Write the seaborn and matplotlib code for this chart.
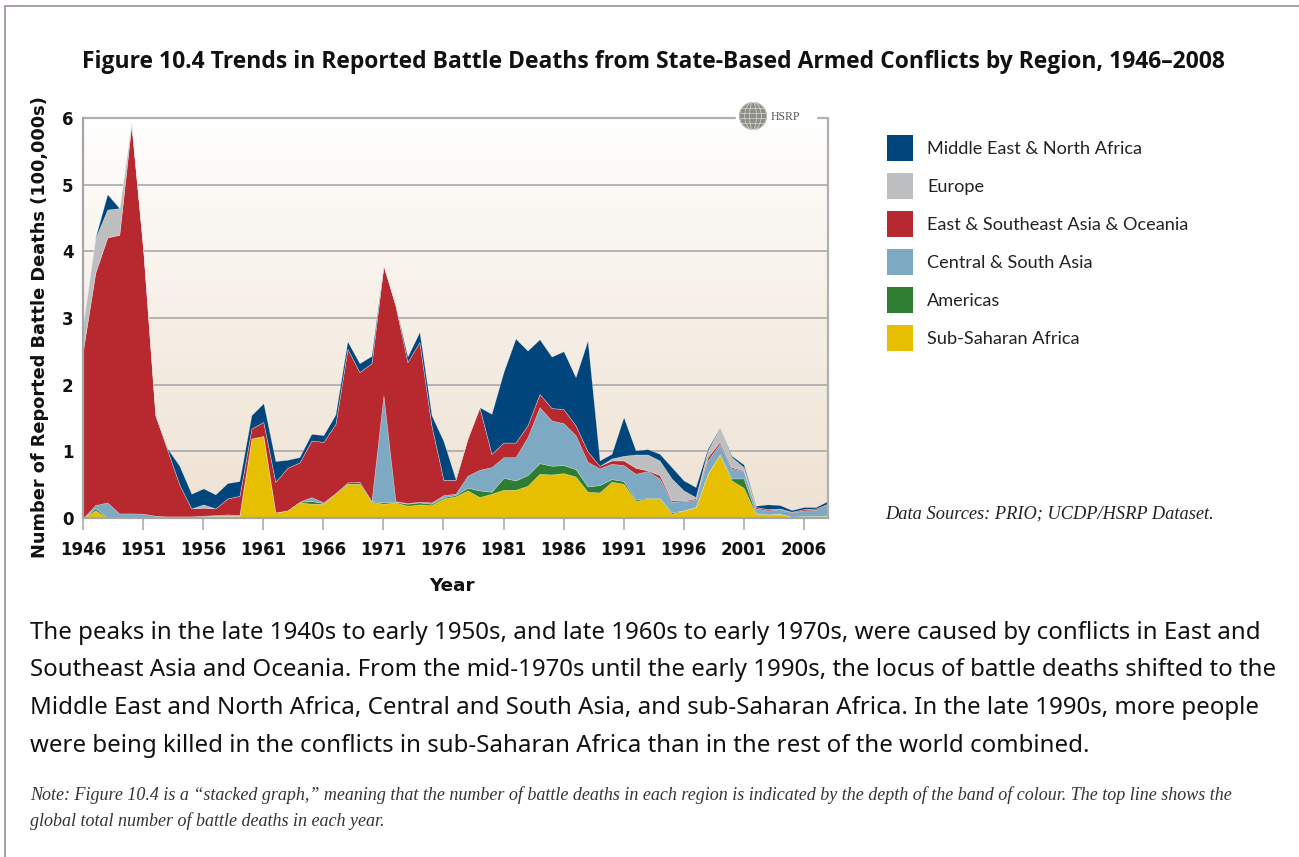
import numpy as np
import pandas as pd
import matplotlib
matplotlib.use("Agg")
import matplotlib.pyplot as plt
import seaborn as sns
from matplotlib.colors import LinearSegmentedColormap
from matplotlib.patches import Rectangle, Ellipse
from matplotlib.lines import Line2D

# ---------------- data (100,000s of battle deaths) ----------------
years = list(range(1946, 2009))
sub_saharan_africa = [0, .11, 0, 0, 0, 0, .02, .02, .02, .02,
                      .02, .03, .03, .03, 1.19, 1.22, .08, .11, .23, .21,
                      .21, .36, .51, .51, .24, .21, .23, .18, .20, .19,
                      .29, .32, .41, .31, .36, .42, .42, .48, .66, .65,
                      .67, .62, .39, .38, .54, .51, .25, .29, .29, .06,
                      .11, .16, .66, .95, .56, .45, .06, .05, .06, .015,
                      .025, .025, .03]
americas = [0, .03, .01, 0, 0, 0, 0, 0, 0, 0,
            0, 0, 0, 0, 0, .01, 0, 0, .01, .04,
            .01, .01, .02, .03, .01, .02, .01, .03, .03, .02,
            .02, .02, .04, .10, .03, .18, .14, .16, .16, .13,
            .12, .11, .08, .11, .04, .04, .02, .01, .01, .02,
            0, 0, 0, 0, .03, .14, .01, 0, 0, 0,
            0, 0, 0]
central_south_asia = [0, .05, .22, .065, .065, .06, .01, 0, 0, 0,
                      .01, .01, .02, .01, 0, 0, 0, 0, 0, .06,
                      .01, 0, 0, 0, 0, 1.61, .01, .01, .01, .02,
                      .03, .02, .18, .31, .37, .31, .35, .57, .84, .68,
                      .63, .51, .37, .25, .23, .24, .39, .40, .29, .16,
                      .14, .11, .20, .16, .15, .11, .07, .06, .07, .065,
                      .085, .095, .17]
east_se_asia_oceania = [2.54, 3.49, 3.98, 4.185, 5.835, 3.94, 1.51, 1.0, .48, .12,
                        .12, .10, .24, .29, .15, .21, .46, .64, .59, .85,
                        .91, 1.04, 2.01, 1.65, 2.07, 1.95, 2.94, 2.12, 2.40, 1.16,
                        .23, .21, .56, .94, .20, .22, .22, .18, .20, .19,
                        .21, .15, .16, .04, .05, .07, .09, .01, .05, .02,
                        .01, .02, .05, .03, .02, .01, .02, .02, .01, .01,
                        .02, .02, .01]
europe = [.41, .52, .42, .40, .05, .02, 0, 0, 0, 0,
          .05, 0, 0, 0, 0, 0, 0, 0, 0, 0,
          0, 0, 0, 0, 0, 0, 0, 0, 0, 0,
          0, 0, 0, 0, 0, 0, 0, 0, 0, 0,
          0, 0, 0, 0, .03, .07, .20, .24, .22, .33,
          .15, .02, .10, .20, .15, .05, 0, 0, 0, 0,
          0, 0, 0]
middle_east_north_africa = [0, .01, .23, 0, 0, 0, 0, .02, .28, .22,
                            .24, .21, .23, .22, .20, .28, .31, .12, .08, .10,
                            .10, .14, .11, .13, .11, 0, 0, .08, .15, .15,
                            .58, .01, 0, 0, .60, 1.06, 1.56, 1.12, .82, .77,
                            .87, .72, 1.66, .08, .07, .58, .06, .08, .10, .17,
                            .15, .15, .03, .01, .02, .04, .02, .07, .05, .025,
                            .03, .02, .04]

regions = ["Sub-Saharan Africa", "Americas", "Central & South Asia",
           "East & Southeast Asia & Oceania", "Europe", "Middle East & North Africa"]
colors = ["#E6C000", "#2E7D32", "#7DAAC2", "#B7282F", "#BDBEC0", "#00457C"]
x_ticks = list(range(1946, 2009, 5))
y_ticks = [0, 1, 2, 3, 4, 5, 6]

df = pd.DataFrame({
    "Year": years,
    regions[0]: sub_saharan_africa,
    regions[1]: americas,
    regions[2]: central_south_asia,
    regions[3]: east_se_asia_oceania,
    regions[4]: europe,
    regions[5]: middle_east_north_africa,
})

# ---------------- style ----------------
sns.set_theme(style="white")
plt.rcParams["font.family"] = ["DejaVu Sans"]

W, H = 1299, 857
fig = plt.figure(figsize=(W / 100, H / 100), dpi=100)
fig.patch.set_facecolor("white")

def fx(px):
    return px / W

def fy(py):
    return 1 - py / H

ax_l, ax_r, ax_t, ax_b = 83.3, 827.7, 118.3, 517.7
ax = fig.add_axes([fx(ax_l), fy(ax_b), fx(ax_r - ax_l), (ax_b - ax_t) / H])

# background gradient
grad_cmap = LinearSegmentedColormap.from_list("bg", ["#EEE2D3", "#F6EFE6", "#FFFFFF"])
grad = np.linspace(0, 1, 256).reshape(-1, 1)
ax.imshow(grad, extent=[1946, 2008, 0, 6], origin="lower", aspect="auto",
          cmap=grad_cmap, zorder=0, interpolation="bicubic")

# gridlines
for yv in y_ticks[1:-1]:
    ax.axhline(yv, color="#A9A9A9", lw=1.2, zorder=1)

# stacked areas
ax.stackplot(df["Year"], [df[r] for r in regions], colors=colors,
             edgecolor=(1, 1, 1, 0.35), linewidth=0.4, zorder=2)

ax.set_xlim(1946, 2008)
ax.set_ylim(0, 6)

# top line with gap for logo, right border
gap0 = (735 - ax_l) / (ax_r - ax_l)
gap1 = (818 - ax_l) / (ax_r - ax_l)
ax.plot([0, gap0], [1, 1], transform=ax.transAxes, color="#B0B0B0", lw=1.6, clip_on=False, zorder=5)
ax.plot([gap1, 1, 1], [1, 1, 0], transform=ax.transAxes, color="#B0B0B0", lw=1.6, clip_on=False, zorder=5)

for s in ["top", "right"]:
    ax.spines[s].set_visible(False)
for s in ["left", "bottom"]:
    ax.spines[s].set_color("#A5A5A5")
    ax.spines[s].set_linewidth(1.6)
    ax.spines[s].set_zorder(6)

ax.set_xticks(x_ticks)
ax.set_xticklabels([str(t) for t in x_ticks])
ax.set_yticks(y_ticks)
ax.set_yticklabels([str(t) for t in y_ticks])
ax.tick_params(axis="x", which="major", direction="out", length=8.5, width=1.1,
               color="#A5A5A5", pad=8, labelsize=12, bottom=True)
ax.tick_params(axis="y", which="major", length=0, pad=7, labelsize=12)
for lab in ax.get_xticklabels() + ax.get_yticklabels():
    lab.set_fontweight("bold")
    lab.set_color("#111111")
ax.set_xlabel("")
ax.set_ylabel("")

# axis titles
fig.text(fx(40), fy(327), "Number of Reported Battle Deaths (100,000s)", rotation=90,
         ha="center", va="center", fontsize=12.8, fontweight="bold", color="#111111")
fig.text(fx(452), fy(586), "Year", ha="center", va="center",
         fontsize=13.2, fontweight="bold", color="#111111")

# logo
fig.patches.append(Ellipse((fx(753), fy(116)), 27 / W, 27 / H, transform=fig.transFigure,
                           facecolor="#8E8E88", edgecolor="#6E6E68", lw=0.6, zorder=10))
for k in range(0, 3):
    fig.patches.append(Ellipse((fx(753), fy(116)), 27 / W * (0.25 + 0.37 * k),
                               27 / H, transform=fig.transFigure, facecolor="none",
                               edgecolor="#D8D8D2", lw=0.5, zorder=11))
for dy in [-8, -3, 2, 7]:
    half = np.sqrt(max(13.5 ** 2 - dy ** 2, 0))
    fig.add_artist(Line2D([fx(753 - half), fx(753 + half)], [fy(116 + dy), fy(116 + dy)],
                          color="#D8D8D2", lw=0.5, zorder=11))
fig.text(fx(771), fy(117), "HSRP", ha="left", va="center", fontsize=8.5,
         family=["Liberation Serif", "DejaVu Serif"], color="#555555")

# title
fig.text(fx(653), fy(62),
         "Figure 10.4 Trends in Reported Battle Deaths from State-Based Armed Conflicts by Region, 1946\u20132008",
         ha="center", va="center", fontsize=16.5, fontweight="bold",
         family=["Open Sans", "DejaVu Sans"], color="#111111")

# legend (top to bottom: reverse stacking order)
for row, i in enumerate(range(5, -1, -1)):
    top = 135 + row * 38
    fig.patches.append(Rectangle((fx(887), fy(top + 26)), 26 / W, 26 / H,
                                 transform=fig.transFigure, facecolor=colors[i],
                                 edgecolor="none", zorder=5))
    fig.text(fx(927), fy(top + 14), regions[i], ha="left", va="center", fontsize=13.1,
             family=["Lato", "DejaVu Sans"], color="#222222")

fig.text(fx(885), fy(514), "Data Sources: PRIO; UCDP/HSRP Dataset.", ha="left", va="center",
         fontsize=13.2, style="italic", family=["Liberation Serif", "DejaVu Serif"], color="#222222")

# body text
body = ["The peaks in the late 1940s to early 1950s, and late 1960s to early 1970s, were caused by conflicts in East and",
        "Southeast Asia and Oceania. From the mid-1970s until the early 1990s, the locus of battle deaths shifted to the",
        "Middle East and North Africa, Central and South Asia, and sub-Saharan Africa. In the late 1990s, more people",
        "were being killed in the conflicts in sub-Saharan Africa than in the rest of the world combined."]
for i, line in enumerate(body):
    fig.text(fx(30), fy(633 + i * 37.5), line, ha="left", va="center", fontsize=17.3,
             family=["Noto Sans", "DejaVu Sans"], color="#111111")

note = ["Note: Figure 10.4 is a \u201cstacked graph,\u201d meaning that the number of battle deaths in each region is indicated by the depth of the band of colour. The top line shows the",
        "global total number of battle deaths in each year."]
for i, line in enumerate(note):
    fig.text(fx(30), fy(795 + i * 26), line, ha="left", va="center", fontsize=13,
             style="italic", family=["Liberation Serif", "DejaVu Serif"], color="#333333")

# page frame lines
fig.add_artist(Line2D([fx(5.5), fx(5.5)], [0, fy(5.5)], color="#9E8FA0", lw=1.2))
fig.add_artist(Line2D([fx(5.5), 1], [fy(5.5), fy(5.5)], color="#9E8FA0", lw=1.2))

fig.savefig("out.png", dpi=100)
